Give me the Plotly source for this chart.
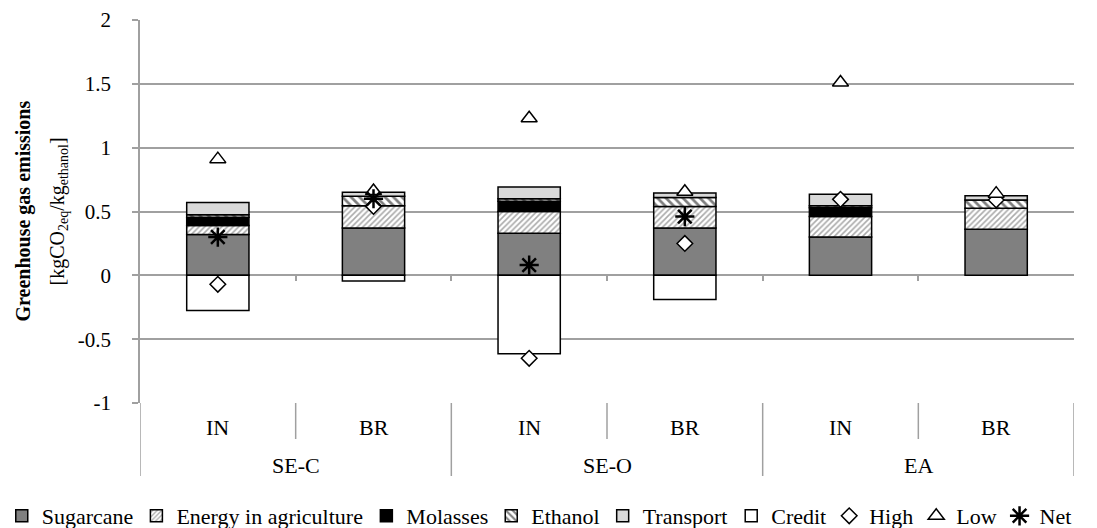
import plotly.graph_objects as go

# ---- data ----
groups = ["SE-C", "SE-O", "EA"]
sub_labels = ["IN", "BR", "IN", "BR", "IN", "BR"]
group_of_bar = ["SE-C", "SE-C", "SE-O", "SE-O", "EA", "EA"]

sugarcane = [0.32, 0.37, 0.33, 0.37, 0.30, 0.36]
energy_agri = [0.07, 0.175, 0.17, 0.17, 0.16, 0.165]
molasses = [0.065, None, 0.08, None, 0.07, None]
ethanol = [0.02, 0.075, 0.02, 0.07, 0.016, 0.065]
transport = [0.095, 0.03, 0.092, 0.035, 0.09, 0.034]
credit = [-0.275, -0.045, -0.615, -0.19, None, None]
high = [-0.07, 0.54, -0.65, 0.25, 0.595, 0.59]
low = [0.91, 0.66, 1.23, 0.655, 1.51, 0.64]
net = [0.30, 0.60, 0.08, 0.46, None, None]

ytick_vals = [-1, -0.5, 0, 0.5, 1, 1.5, 2]
ytick_text = ["-1", "-0.5", "0", "0.5", "1", "1.5", "2"]

FONT = "Liberation Serif"
GRID = "#a0a0a0"
LEG_SIZE = 22
xpos = list(range(len(sub_labels)))

# approximate Times glyph advance widths (per 1000 em) to size legend entries
_TW = {'S': 556, 'u': 500, 'g': 500, 'a': 444, 'r': 333, 'c': 444, 'n': 500, 'e': 444,
       'E': 611, 'y': 500, ' ': 250, 'i': 278, 'l': 278, 't': 278, 'M': 889, 'o': 500,
       's': 389, 'h': 500, 'T': 611, 'p': 500, 'C': 667, 'd': 500, 'H': 722, 'L': 611,
       'w': 722, 'N': 722}


def lw(name):
    return sum(_TW.get(ch, 500) for ch in name) / 1000 * LEG_SIZE - 2


fig = go.Figure()
line = dict(color="black", width=1.5)
bw = 0.4


def bar(y, name, marker):
    fig.add_bar(x=xpos, y=y, name=name, width=bw, marker=marker, legendwidth=lw(name))


bar(sugarcane, "Sugarcane", dict(color="#808080", line=line))
bar(energy_agri, "Energy in agriculture",
    dict(color="white", line=line,
         pattern=dict(shape="/", fgcolor="#555555", bgcolor="white", size=4, solidity=0.4)))
bar(molasses, "Molasses", dict(color="black", line=line))
bar(ethanol, "Ethanol",
    dict(color="white", line=line,
         pattern=dict(shape="\\", fgcolor="black", bgcolor="white", size=6, solidity=0.45)))
bar(transport, "Transport", dict(color="#d9d9d9", line=line))
bar(credit, "Credit", dict(color="white", line=line))

fig.add_scatter(x=xpos, y=high, name="High", mode="markers", legendwidth=lw("High"),
                marker=dict(symbol="diamond", size=12, color="white",
                            line=dict(color="black", width=1.5)))
fig.add_scatter(x=xpos, y=low, name="Low", mode="markers", legendwidth=lw("Low"),
                marker=dict(symbol="triangle-up", size=14, color="white",
                            line=dict(color="black", width=1.5)))
fig.add_scatter(x=xpos, y=net, name="Net", mode="markers", legendwidth=lw("Net"),
                marker=dict(symbol="asterisk-open", size=16, color="black",
                            line=dict(color="black", width=2.5)))

# separators below the plot (category boundaries)
n = len(sub_labels)
for i in range(n + 1):
    b = i - 0.5
    is_outer = (i == 0 or i == n or group_of_bar[i - 1] != group_of_bar[i])
    fig.add_shape(type="line", xref="x", yref="paper", x0=b, x1=b,
                  ysizemode="pixel", yanchor=0, y0=0, y1=-73 if is_outer else -36,
                  line=dict(color=GRID, width=1.5))

# inner labels
for i, lab in enumerate(sub_labels):
    fig.add_annotation(x=xpos[i], y=0, xref="x", yref="paper", text=lab,
                       showarrow=False, yanchor="middle", yshift=-24,
                       font=dict(family=FONT, size=22, color="black"))
# outer labels
for g in groups:
    idx = [i for i, gg in enumerate(group_of_bar) if gg == g]
    fig.add_annotation(x=sum(xpos[i] for i in idx) / len(idx), y=0, xref="x", yref="paper",
                       text=g, showarrow=False, yanchor="middle", yshift=-62,
                       font=dict(family=FONT, size=22, color="black"))

# y-axis title (two lines)
fig.add_annotation(x=0, y=0.5, xref="paper", yref="paper", xshift=-117,
                   text="<b>Greenhouse gas emissions</b>", textangle=-90,
                   showarrow=False, xanchor="center", yanchor="middle",
                   font=dict(family=FONT, size=20, color="black"))
fig.add_annotation(x=0, y=0.5, xref="paper", yref="paper", xshift=-82,
                   text="[kgCO<sub>2eq</sub>/kg<sub>ethanol</sub>]", textangle=-90,
                   showarrow=False, xanchor="center", yanchor="middle",
                   font=dict(family=FONT, size=20, color="black"))

fig.update_layout(
    width=1097, height=528,
    margin=dict(l=140, r=23, t=20, b=125, autoexpand=False),
    barmode="relative",
    plot_bgcolor="white", paper_bgcolor="white",
    font=dict(family=FONT, size=21, color="black"),
    showlegend=True,
    legend=dict(orientation="h", xref="paper", yref="paper",
                x=-0.148, xanchor="left", y=-0.295, yanchor="middle",
                traceorder="normal", font=dict(family=FONT, size=LEG_SIZE, color="black"),
                itemwidth=30, tracegroupgap=0, borderwidth=0),
    xaxis=dict(range=[-0.5, n - 0.5], showgrid=False, zeroline=False,
               showticklabels=False, anchor="free", position=1/3,
               tickmode="array", tickvals=[i + 0.5 for i in range(n - 1)],
               ticks="outside", ticklen=5, tickcolor=GRID, tickwidth=1.5,
               showline=False),
    yaxis=dict(range=[-1, 2], tickmode="array", tickvals=ytick_vals, ticktext=ytick_text,
               showgrid=True, gridcolor=GRID, gridwidth=1.5, zeroline=False,
               showline=True, linecolor=GRID, linewidth=1.5,
               ticks="outside", ticklen=6, tickcolor=GRID, tickwidth=1.5,
               ticklabelstandoff=17,
               tickfont=dict(family=FONT, size=21, color="black")),
)

fig.write_html("out.html", config={"displayModeBar": False},
               post_script="document.body.style.margin='0px';")
